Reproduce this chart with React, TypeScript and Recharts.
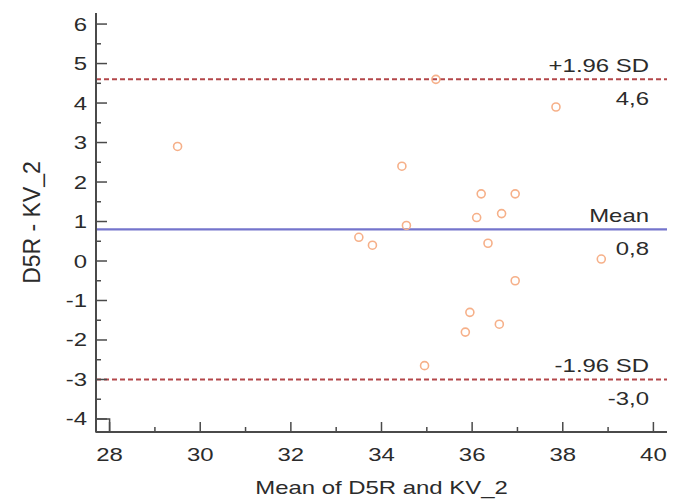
import React from 'react';
import {
  ScatterChart,
  Scatter,
  XAxis,
  YAxis,
  ReferenceLine,
  ReferenceArea,
} from 'recharts';

// means of the two methods (x) and their differences (y)
const MEANS = [29.5, 34.45, 36.2, 36.95, 36.1, 36.65, 34.55, 33.5, 33.8, 36.35, 36.95, 35.95, 36.6, 35.85, 34.95, 37.85, 38.85, 35.2];
const DIFFS = [2.9, 2.4, 1.7, 1.7, 1.1, 1.2, 0.9, 0.6, 0.4, 0.45, -0.5, -1.3, -1.6, -1.8, -2.65, 3.9, 0.05, 4.6];

const X_LABELS = [28, 30, 32, 34, 36, 38, 40];
const X_MINOR = [29, 31, 33, 35, 37, 39];
const Y_LABELS = [-4, -3, -2, -1, 0, 1, 2, 3, 4, 5, 6];
const Y_MINOR = [-3.5, -2.5, -1.5, -0.5, 0.5, 1.5, 2.5, 3.5, 4.5, 5.5];

const X_DOMAIN: [number, number] = [27.7, 40.3];
const Y_DOMAIN: [number, number] = [-4.33, 6.28];

const MEAN_DIFF = 0.8;
const UPPER = 4.6;
const LOWER = -3.0;

const FONT = '"Liberation Sans", Arial, sans-serif';
const TEXT = '#2b2b2b';
const AXIS = '#4a4a4a';
const SX = 1.33;

const data = MEANS.map((m, i) => ({ x: m, y: DIFFS[i] }));

function SText({ x, y, anchor = 'middle', size = 18, children }: any) {
  return (
    <text
      transform={`translate(${x},${y}) scale(${SX},1)`}
      textAnchor={anchor}
      fontSize={size}
      fontFamily={FONT}
      fill={TEXT}
    >
      {children}
    </text>
  );
}

function XTick({ x, y, payload }: any) {
  const major = X_LABELS.includes(payload.value);
  return (
    <g>
      <line x1={x} x2={x} y1={y} y2={y - (major ? 10 : 5)} stroke={AXIS} strokeWidth={1.5} />
      {major && (
        <SText x={x} y={y + 29}>
          {payload.value}
        </SText>
      )}
    </g>
  );
}

function YTick({ x, y, payload }: any) {
  const major = Y_LABELS.includes(payload.value);
  return (
    <g>
      <line x1={x} x2={x + (major ? 11 : 5)} y1={y} y2={y} stroke={AXIS} strokeWidth={1.5} />
      {major && (
        <SText x={x - 9} y={y + 6.5} anchor="end">
          {payload.value}
        </SText>
      )}
    </g>
  );
}

const lineLabel = (above: string, below: string) => (p: any) => {
  const vb = p.viewBox;
  const right = vb.x + vb.width - 18;
  return (
    <g>
      <SText x={right} y={vb.y - 7} anchor="end">
        {above}
      </SText>
      <SText x={right} y={vb.y + 26} anchor="end">
        {below}
      </SText>
    </g>
  );
};

function Dot({ cx, cy }: any) {
  return <circle cx={cx} cy={cy} r={4} fill="none" stroke="#f6b089" strokeWidth={1.6} />;
}

export default function App() {
  return (
    <div style={{ position: 'absolute', left: 0, top: 0, background: '#fff' }}>
      <ScatterChart width={677} height={503} margin={{ top: 13, right: 10, bottom: 21, left: 0 }}>
        <XAxis
          type="number"
          dataKey="x"
          domain={X_DOMAIN}
          ticks={[...X_LABELS, ...X_MINOR].sort((a, b) => a - b)}
          interval={0}
          allowDataOverflow
          height={50}
          tickSize={0}
          tickMargin={0}
          tickLine={false}
          tick={<XTick />}
          axisLine={{ stroke: AXIS, strokeWidth: 2 }}
          label={(p: any) => (
            <SText x={p.viewBox.x + p.viewBox.width / 2} y={p.viewBox.y + 62}>
              Mean of D5R and KV_2
            </SText>
          )}
        />
        <YAxis
          type="number"
          dataKey="y"
          domain={Y_DOMAIN}
          ticks={[...Y_LABELS, ...Y_MINOR].sort((a, b) => a - b)}
          interval={0}
          allowDataOverflow
          width={96}
          tickSize={0}
          tickMargin={0}
          tickLine={false}
          tick={<YTick />}
          axisLine={{ stroke: AXIS, strokeWidth: 2 }}
          label={(p: any) => (
            <text
              transform={`translate(${p.viewBox.x + 40},${p.viewBox.y + p.viewBox.height / 2}) rotate(-90)`}
              textAnchor="middle"
              fontSize={23}
              fontFamily={FONT}
              fill={TEXT}
            >
              D5R - KV_2
            </text>
          )}
        />
        <ReferenceArea
          x1={X_DOMAIN[0]}
          x2={X_LABELS[0]}
          y1={Y_DOMAIN[0]}
          y2={Y_LABELS[0]}
          fill="none"
          stroke={AXIS}
          strokeWidth={1.5}
          ifOverflow="extendDomain"
        />
        <Scatter data={data} shape={<Dot />} isAnimationActive={false} />
        <ReferenceLine
          y={UPPER}
          stroke="#b3474a"
          strokeWidth={2}
          strokeDasharray="5 3"
          label={lineLabel('+1.96 SD', '4,6')}
        />
        <ReferenceLine
          y={MEAN_DIFF}
          stroke="#7474cc"
          strokeWidth={2.2}
          label={lineLabel('Mean', '0,8')}
        />
        <ReferenceLine
          y={LOWER}
          stroke="#b3474a"
          strokeWidth={2}
          strokeDasharray="5 3"
          label={lineLabel('-1.96 SD', '-3,0')}
        />
      </ScatterChart>
    </div>
  );
}
